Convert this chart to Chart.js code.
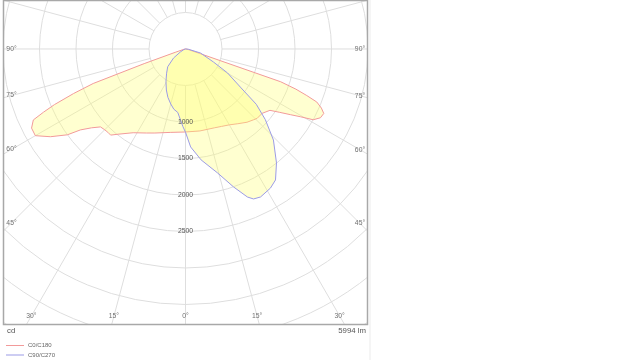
<!DOCTYPE html>
<html><head><meta charset="utf-8">
<script src="https://cdn.jsdelivr.net/npm/chart.js@4.4.1/dist/chart.umd.min.js"></script>
<style>html,body{margin:0;padding:0;background:#fff;}#wrap{position:relative;width:640px;height:360px;}</style>
</head><body><div id="wrap"><canvas id="c" width="640" height="360"></canvas></div>
<script>
// ---- data (angle from nadir in degrees, luminous intensity in cd) ----
const c0Angles   = [0, 10, 20, 25, 30, 35, 40, 44, 46, 50, 54, 56, 58, 59.5, 61, 63, 65, 66.5, 68, 69, 70, 71, 72.5, 76, 82, 90];
const c0Values   = [1137, 1140, 1150, 1170, 1200, 1250, 1310, 1347, 1366, 1371, 1430, 1550, 1700, 1830, 2000, 2075, 2090, 2030, 1940, 1780, 1610, 1380, 200, 60, 20, 0];
const c180Angles = [0, 10, 20, 25, 32, 38, 41, 43, 45, 47.5, 50, 52.4, 54, 57, 60, 62.8, 65, 66, 67, 68.3, 69.5, 70.5, 72, 80, 90];
const c180Values = [1137, 1160, 1225, 1270, 1353, 1480, 1563, 1560, 1565, 1580, 1680, 1817, 2000, 2207, 2375, 2371, 2300, 2130, 1950, 1650, 1350, 600, 150, 20, 0];
const c90Angles  = [0, 3, 8, 14.5, 19.2, 22.7, 24.4, 26.9, 31.4, 34.5, 38.6, 44, 48.5, 52, 55, 60.3, 65, 75, 85, 90];
const c90Values  = [1140, 1344, 1534, 1754, 2001, 2198, 2256, 2273, 2233, 2177, 1998, 1734, 1460, 1230, 930, 663, 423, 213, 40, 0];
const c270Angles = [0, 2, 4, 7, 11, 15, 20, 25, 31, 38, 45, 53, 60, 70, 90];
const c270Values = [1140, 1060, 975, 875, 840, 780, 705, 620, 520, 420, 345, 205, 80, 25, 0];

const ringValues   = [500, 1000, 1500, 2000, 2500, 3000, 3500, 4000, 4500];
const ringLabels   = [1000, 1500, 2000, 2500];
const angleLabels  = [0, 15, 30, 45, 60, 75, 90];
const seriesNames  = ['C0/C180', 'C90/C270'];
const unitText     = 'cd';
const fluxText     = '5994 lm';

const RED = '#f29a9a', BLUE = '#9b9be6';
const FILL = 'rgba(255,255,110,0.32)';
const GRID = '#dedede';
const FONT = '"Liberation Sans", Arial, sans-serif';

function curve(rightA, rightV, leftA, leftV) {
  const pts = [];
  for (let i = rightA.length - 1; i >= 0; i--) {
    const g = rightA[i] * Math.PI / 180;
    pts.push({x: rightV[i] * Math.sin(g), y: -rightV[i] * Math.cos(g)});
  }
  for (let i = 1; i < leftA.length; i++) {
    const g = leftA[i] * Math.PI / 180;
    pts.push({x: -leftV[i] * Math.sin(g), y: -leftV[i] * Math.cos(g)});
  }
  return pts;
}

const polarGrid = {
  id: 'polarGrid',
  beforeDatasetsDraw(chart) {
    const {ctx, chartArea: a, scales: {x, y}} = chart;
    const cx = x.getPixelForValue(0), cy = y.getPixelForValue(0);
    const k = x.getPixelForValue(1000) - cx;
    ctx.save();
    ctx.beginPath(); ctx.rect(a.left, a.top, a.right - a.left, a.bottom - a.top); ctx.clip();
    ctx.strokeStyle = GRID; ctx.lineWidth = 1;
    ringValues.forEach(v => { ctx.beginPath(); ctx.arc(cx, cy, v * k / 1000, 0, Math.PI * 2); ctx.stroke(); });
    const r0 = ringValues[0] * k / 1000, r1 = 6000 * k / 1000;
    for (let d = 0; d < 360; d += 15) {
      const g = d * Math.PI / 180;
      ctx.beginPath();
      ctx.moveTo(cx + r0 * Math.sin(g), cy + r0 * Math.cos(g));
      ctx.lineTo(cx + r1 * Math.sin(g), cy + r1 * Math.cos(g));
      ctx.stroke();
    }
    ctx.restore();
  },
  afterDatasetsDraw(chart) {
    const {ctx, chartArea: a, scales: {x, y}} = chart;
    const cx = x.getPixelForValue(0);
    ctx.save();
    ctx.fillStyle = '#555'; ctx.font = '6.8px ' + FONT;
    ctx.textAlign = 'center'; ctx.textBaseline = 'middle';
    ringLabels.forEach(v => ctx.fillText(String(v), cx, y.getPixelForValue(-v)));
    ctx.restore();
  },
  afterDraw(chart) {
    const {ctx, chartArea: a, scales: {x, y}} = chart;
    const cx = x.getPixelForValue(0), cy = y.getPixelForValue(0);
    ctx.save();
    ctx.fillStyle = '#f5f5f5'; ctx.fillRect(a.right + 1, 0, 2, 360);
    ctx.strokeStyle = '#a8a8a8'; ctx.lineWidth = 1.5;
    ctx.strokeRect(a.left + 0.5, a.top + 0.5, a.right - a.left - 1, a.bottom - a.top - 1);
    ctx.fillStyle = '#707070'; ctx.font = '6.8px ' + FONT;
    ctx.textAlign = 'center'; ctx.textBaseline = 'middle';
    const L = a.left + 8.5, R = a.right - 8, B = a.bottom - 9;
    angleLabels.forEach(d => {
      const g = d * Math.PI / 180, s = Math.sin(g), c = Math.cos(g);
      const tB = c > 1e-6 ? (B - cy) / c : Infinity;
      const tR = s > 1e-6 ? (R - cx) / s : Infinity;
      const tL = s > 1e-6 ? (cx - L) / s : Infinity;
      const txt = d + '°';
      if (tB <= Math.min(tR, tL)) {
        ctx.fillText(txt, cx + tB * s, B);
        if (d > 0) ctx.fillText(txt, cx - tB * s, B);
      } else {
        ctx.fillText(txt, R, cy + tR * c);
        ctx.fillText(txt, L, cy + tL * c);
      }
    });
    ctx.fillStyle = '#555'; ctx.font = '7.8px ' + FONT;
    ctx.textAlign = 'left'; ctx.fillText(unitText, a.left + 4, a.bottom + 6);
    ctx.textAlign = 'right'; ctx.fillText(fluxText, a.right - 2, a.bottom + 6);
    ctx.font = '6px ' + FONT; ctx.fillStyle = '#666'; ctx.textAlign = 'left';
    [RED, BLUE].forEach((col, i) => {
      const yy = a.bottom + 20.5 + i * 9.5;
      ctx.strokeStyle = col; ctx.lineWidth = 1;
      ctx.beginPath(); ctx.moveTo(a.left + 3, yy); ctx.lineTo(a.left + 21, yy); ctx.stroke();
      ctx.fillText(seriesNames[i], a.left + 25, yy);
    });
    ctx.restore();
  }
};

new Chart(document.getElementById('c'), {
  type: 'scatter',
  data: {
    datasets: [
      {label: seriesNames[1], data: curve(c90Angles, c90Values, c270Angles, c270Values),
       showLine: true, fill: 'shape', borderColor: BLUE, backgroundColor: FILL, borderWidth: 1,
       pointRadius: 0, tension: 0, order: 0},
      {label: seriesNames[0], data: curve(c0Angles, c0Values, c180Angles, c180Values),
       showLine: true, fill: 'shape', borderColor: RED, backgroundColor: FILL, borderWidth: 1,
       pointRadius: 0, tension: 0, order: 1}
    ]
  },
  options: {
    responsive: false, animation: false, devicePixelRatio: 1,
    layout: {padding: {left: 3, top: 0, right: 272, bottom: 35}},
    scales: {
      x: {type: 'linear', min: -2500, max: 2500, display: false},
      y: {type: 'linear', min: -3781, max: 671, display: false}
    },
    plugins: {legend: {display: false}, tooltip: {enabled: false}}
  },
  plugins: [polarGrid]
});
</script>
</body></html>
